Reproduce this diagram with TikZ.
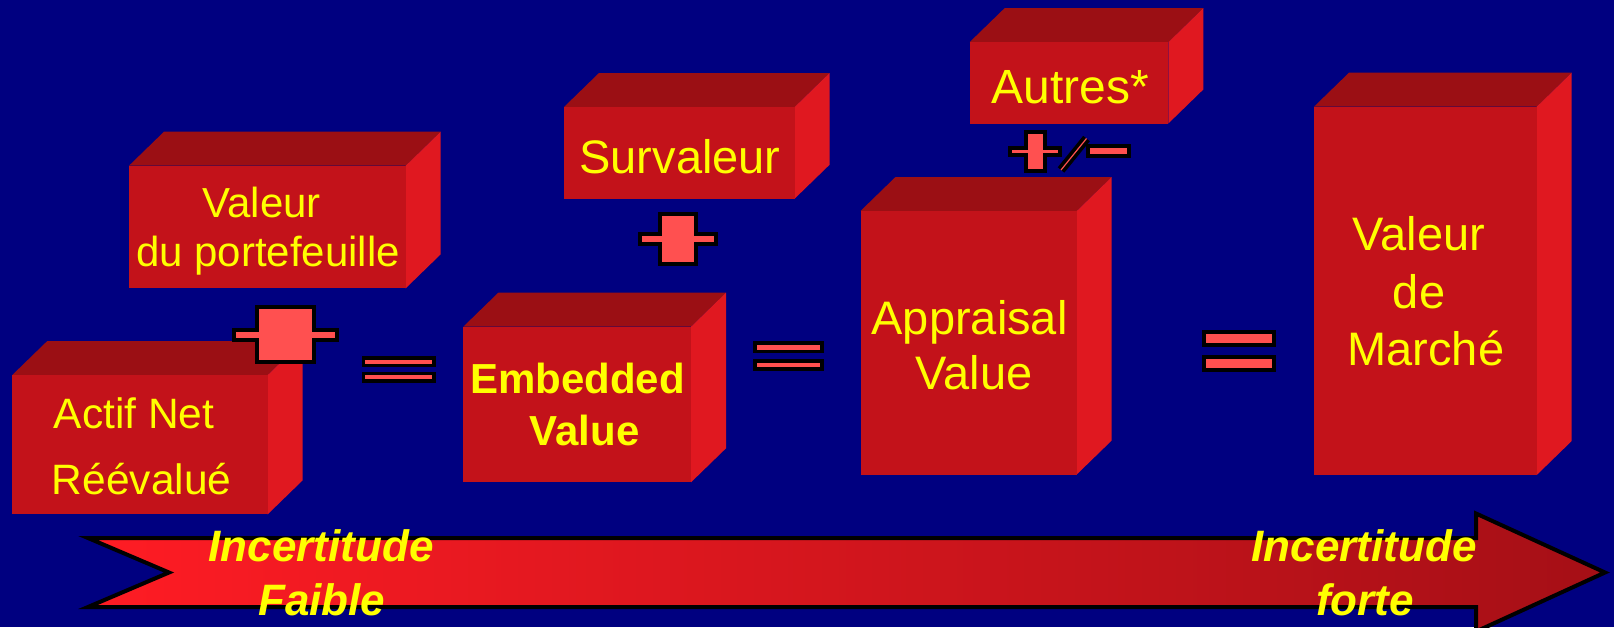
\documentclass[tikz,border=0pt]{standalone}
\usepackage{fontspec}
\setmainfont{Liberation Sans}
\definecolor{bg}{RGB}{0,0,128}
\definecolor{frontc}{RGB}{195,18,26}
\definecolor{topc}{RGB}{155,15,20}
\definecolor{sidec}{RGB}{224,24,32}
\definecolor{symred}{RGB}{255,80,80}
\definecolor{txtc}{RGB}{255,255,0}
\definecolor{arrL}{RGB}{255,28,36}
\definecolor{arrR}{RGB}{165,15,22}
\newcommand\cubeblock[5]{%
  \fill[topc] (#2,#3) -- ({#2+35},{#3-34}) -- ({#4+35},{#3-34}) -- (#4,#3) -- cycle;
  \fill[sidec] (#4,#3) -- ({#4+35},{#3-34}) -- ({#4+35},{#5-34}) -- (#4,#5) -- cycle;
  \fill[frontc] (#2,#3) rectangle (#4,#5);
  \coordinate (#1) at ({(#2+#4)/2},{(#3+#5)/2});
}
\tikzset{
  lbl/.style={text=txtc, anchor=base, inner sep=0pt, font=\fontsize{#1}{#1}\selectfont},
  lblb/.style={text=txtc, anchor=base, inner sep=0pt, font=\fontsize{#1}{#1}\selectfont\bfseries},
  lblbi/.style={text=txtc, anchor=base, inner sep=0pt, font=\fontsize{#1}{#1}\selectfont\bfseries\itshape},
  symbol/.style={fill=symred, draw=black, line width=4pt, line join=miter},
  eqbar/.style={fill=symred, draw=black, line width=3.5pt},
}
\begin{document}
\begin{tikzpicture}[x=1pt,y=-1pt]
\fill[bg] (0,0) rectangle (1614,627);
\useasboundingbox (0,0) rectangle (1614,627);

% blocks
\cubeblock{actif}{12.3}{375}{267.7}{514.3}
\cubeblock{porte}{129}{165.7}{405.7}{288.3}
\cubeblock{embed}{463.3}{326.7}{691}{482.3}
\cubeblock{surv}{564}{107}{794.6}{198.7}
\cubeblock{autres}{969.6}{42.2}{1168.3}{123.5}
\cubeblock{apprais}{860.5}{211}{1076.7}{474.5}
\cubeblock{marche}{1314}{106.7}{1536.7}{475}

% texts
\node[lbl=42.5] (t1a) at (134,428.3) {Actif Net};
\node[lbl=42.5] (t1b) at (141.7,494.3) {Réévalué};
\node[lbl=42] (t2a) at (261.7,217.3) {Valeur};
\node[lbl=42] (t2b) at (268,266.7) {du portefeuille};
\node[lblb=42] (t3a) at (577.5,393.3) {Embedded};
\node[lblb=42] (t3b) at (584.5,445) {Value};
\node[lbl=47] (t4) at (680,173) {Survaleur};
\node[lbl=48] (t5) at (1070,103) {Autres*};
\node[lbl=47] (t6a) at (969.6,334.5) {Appraisal};
\node[lbl=47] (t6b) at (974,389) {Value};
\node[lbl=47] (t7a) at (1419,250) {Valeur};
\node[lbl=47] (t7b) at (1419,308.3) {de};
\node[lbl=47] (t7c) at (1425.8,365) {Marché};

% plus 1
\draw[symbol] (257,307) -- (313.7,307) -- (313.7,329.7) -- (337,329.7) -- (337,340.3)
  -- (313.7,340.3) -- (313.7,362) -- (257,362) -- (257,340.3) -- (234.3,340.3)
  -- (234.3,329.7) -- (257,329.7) -- cycle;
% plus 2
\draw[symbol] (660.3,214.3) -- (696.3,214.3) -- (696.3,234.3) -- (716.3,234.3) -- (716.3,243.7)
  -- (696.3,243.7) -- (696.3,263.7) -- (660.3,263.7) -- (660.3,243.7) -- (640.3,243.7)
  -- (640.3,234.3) -- (660.3,234.3) -- cycle;
% plus 3
\draw[symbol] (1026.3,132) -- (1044.7,132) -- (1044.7,148) -- (1060.3,148) -- (1060.3,155)
  -- (1044.7,155) -- (1044.7,170.7) -- (1026.3,170.7) -- (1026.3,155) -- (1010.3,155)
  -- (1010.3,148) -- (1026.3,148) -- cycle;
% slash
\coordinate (s1) at (1061,170);
\coordinate (s2) at (1086.5,138.5);
\fill[black] (1057.7,167.3) -- (1083.2,135.8) -- (1089.8,141.2) -- (1064.3,172.7) -- cycle;
\draw[symred, line width=1.2pt] (s1) -- (s2);
% minus
\draw[symbol] (1088,146.3) rectangle (1128.7,156.3);

% equals
\draw[eqbar] (363.5,357.8) rectangle (434.2,365.5);
\draw[eqbar] (363.5,373.5) rectangle (434.2,381.2);
\draw[eqbar] (755,342.8) rectangle (822,351.5);
\draw[eqbar] (755,360.8) rectangle (822,369.2);
\draw[eqbar] (1204,331.8) rectangle (1274,344.9);
\draw[eqbar] (1204,356.8) rectangle (1274,369.9);

% arrow
\draw[line width=4pt, draw=black, left color=arrL, right color=arrR, line join=miter]
  (88,538) -- (1476,538) -- (1476,513.5) -- (1605,572.5) -- (1476,631.5)
  -- (1476,607) -- (88,607) -- (169,572.5) -- cycle;
\node[lblbi=44] (a1) at (321,561.7) {Incertitude};
\node[lblbi=44] (a2) at (321.7,615) {Faible};
\node[lblbi=44] (a3) at (1364,561.7) {Incertitude};
\node[lblbi=44] (a4) at (1365,615) {forte};
\end{tikzpicture}
\end{document}
